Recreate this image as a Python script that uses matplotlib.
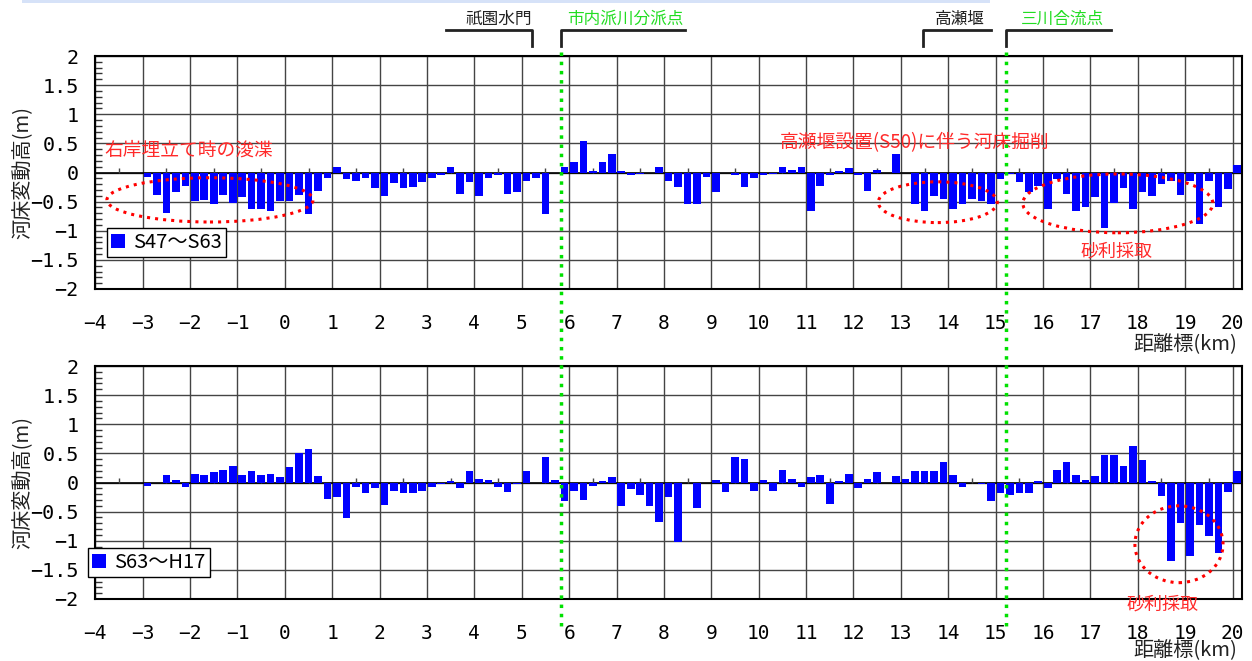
import numpy as np
import matplotlib
matplotlib.use('Agg')
import matplotlib.pyplot as plt
from matplotlib.patches import Ellipse, Rectangle
from matplotlib.lines import Line2D
from matplotlib.ticker import MultipleLocator
from matplotlib.transforms import blended_transform_factory

plt.rcParams['font.family'] = ['Noto Sans CJK JP', 'DejaVu Sans']

# section start (km), 0.2 km pitch; bars sit at the section midpoint
km = np.round(np.arange(-3.0, 20.01, 0.2), 1)

# bed level change (m), S47 -> S63
dz_s47_s63 = [
    -0.07, -0.38, -0.69, -0.33, -0.23, -0.49, -0.48, -0.54, -0.38, -0.52,
    -0.42, -0.62, -0.62, -0.66, -0.49, -0.49, -0.38, -0.71, -0.32, -0.09,
    0.10, -0.11, -0.14, -0.09, -0.26, -0.40, -0.18, -0.26, -0.25, -0.16,
    -0.09, -0.04, 0.10, -0.37, -0.16, -0.40, -0.09, -0.04, -0.37, -0.33,
    -0.14, -0.09, -0.71, 0.00, 0.10, 0.18, 0.54, 0.03, 0.18, 0.31,
    0.03, -0.04, -0.02, 0.00, 0.10, -0.14, -0.25, -0.54, -0.54, -0.07,
    -0.33, 0.00, -0.04, -0.25, -0.09, -0.04, -0.02, 0.10, 0.05, 0.10,
    -0.66, -0.23, -0.04, 0.03, 0.08, -0.04, -0.32, 0.05, 0.00, 0.31,
    0.00, -0.54, -0.66, -0.40, -0.45, -0.62, -0.54, -0.45, -0.49, -0.54,
    -0.11, -0.02, -0.16, -0.33, -0.23, -0.62, -0.11, -0.37, -0.66, -0.59,
    -0.42, -0.95, -0.52, -0.26, -0.62, -0.33, -0.40, -0.19, -0.14, -0.38,
    -0.14, -0.88, -0.14, -0.59, -0.28, 0.13,
]

# bed level change (m), S63 -> H17
dz_s63_h17 = [
    -0.06, 0.00, 0.13, 0.04, -0.08, 0.14, 0.13, 0.18, 0.21, 0.28,
    0.13, 0.19, 0.13, 0.14, 0.09, 0.26, 0.50, 0.57, 0.11, -0.29,
    -0.25, -0.61, -0.08, -0.18, -0.10, -0.39, -0.15, -0.18, -0.18, -0.15,
    -0.08, -0.03, 0.02, -0.10, 0.19, 0.06, 0.04, -0.08, -0.17, -0.03,
    0.19, 0.00, 0.44, 0.04, -0.32, -0.15, -0.30, -0.06, 0.02, 0.09,
    -0.41, -0.11, -0.22, -0.41, -0.68, -0.25, -1.03, 0.00, -0.44, 0.00,
    0.04, -0.17, 0.44, 0.40, -0.15, 0.04, -0.15, 0.21, 0.06, -0.08,
    0.09, 0.13, -0.37, 0.02, 0.14, -0.10, 0.06, 0.18, 0.00, 0.11,
    0.06, 0.19, 0.19, 0.19, 0.35, 0.13, -0.08, 0.00, -0.03, -0.32,
    -0.18, -0.22, -0.18, -0.18, 0.02, -0.10, 0.21, 0.35, 0.13, 0.04,
    0.11, 0.47, 0.47, 0.28, 0.62, 0.38, 0.02, -0.23, -1.35, -0.70,
    -1.27, -0.73, -0.92, -1.21, -0.17, 0.19,
]

periods = ['S47～S63', 'S63～H17']
xticks = list(range(-4, 21))
xticklabels = [str(v).replace('-', '−') for v in xticks]
yticks = [-2, -1.5, -1, -0.5, 0, 0.5, 1, 1.5, 2]
yticklabels = ['−2', '−1.5', '−1', '−0.5', '0', '0.5', '1', '1.5', '2']

# landmarks along the river: label, colour, bracket corner km, bracket end km, label km
sites = ['祇園水門', '市内派川分派点', '高瀬堰', '三川合流点']
site_colors = ['#222222', '#22dd22', '#222222', '#22dd22']
site_corner = [5.22, 5.83, 13.46, 15.22]
site_end = [3.40, 8.44, 14.90, 17.43]
site_text_km = [4.51, 7.18, 14.25, 16.40]
branch_km = [5.83, 15.22]

W, H = 1252, 661
fig = plt.figure(figsize=(W / 100, H / 100), dpi=100)


def px_rect(l, t, r, b):
    return [l / W, 1 - b / H, (r - l) / W, (b - t) / H]


def fy(py):
    return 1 - py / H


ax1 = fig.add_axes(px_rect(95.3, 56, 1242, 289))
ax2 = fig.add_axes(px_rect(95.3, 366, 1242, 599))

mono = 'DejaVu Sans Mono'
for ax, vals, name in [(ax1, dz_s47_s63, periods[0]), (ax2, dz_s63_h17, periods[1])]:
    ax.set_xlim(-4, 20.2)
    ax.set_ylim(-2, 2)
    ax.set_xticks(xticks)
    ax.set_xticklabels(xticklabels, fontfamily=mono, fontsize=14)
    ax.set_yticks(yticks)
    ax.set_yticklabels(yticklabels, fontfamily=mono, fontsize=14.5)
    ax.yaxis.set_minor_locator(MultipleLocator(0.1))
    ax.tick_params(axis='y', which='minor', direction='in', length=5, width=1, color='#333333')
    ax.tick_params(axis='y', which='major', direction='in', length=0, pad=12)
    ax.tick_params(axis='x', length=0, pad=18)
    ax.grid(True, color='#444444', lw=1)
    ax.set_axisbelow(True)
    for s in ax.spines.values():
        s.set_linewidth(1.5)
        s.set_color('black')
    ax.axhline(0, color='black', lw=1.2, zorder=2)
    ax.vlines(np.arange(-3.5, 20, 1.0), 0, 0.08, color='#444444', lw=1, zorder=2)
    ax.bar(km + 0.1, vals, width=0.16, color='#0000ff', zorder=3, label=name)

    fig.text(22 / W, (ax.get_position().y0 + ax.get_position().y1) / 2, '河床変動高(m)',
             rotation=90, ha='center', va='center', fontsize=14.5, color='#222222')

fig.text(1237 / W, fy(345), '距離標(km)', ha='right', va='center', fontsize=14.5, color='#222222')
fig.text(1237 / W, fy(651), '距離標(km)', ha='right', va='center', fontsize=14.5, color='#222222')

leg_kw = dict(loc='upper left', fontsize=14.5, frameon=True, fancybox=False, edgecolor='black',
              framealpha=1, borderpad=0.2, handlelength=0.7, handleheight=0.7,
              handletextpad=0.4, borderaxespad=0)
leg1 = ax1.legend(bbox_to_anchor=(0.0102, 0.262), **leg_kw)
leg2 = ax2.legend(bbox_to_anchor=(-0.0064, 0.219), **leg_kw)
for leg in (leg1, leg2):
    leg.get_frame().set_linewidth(1)

# red notes and dotted rings
red = '#ff2a2a'
ax1.text(-2.02, 0.39, '右岸埋立て時の浚渫', color=red, fontsize=13.5, ha='center', va='center')
ax1.text(13.29, 0.52, '高瀬堰設置(S50)に伴う河床掘削', color=red, fontsize=13.5, ha='center', va='center')
ax1.text(17.56, -1.35, '砂利採取', color=red, fontsize=13, ha='center', va='center')
ax2.text(18.53, -2.10, '砂利採取', color=red, fontsize=13, ha='center', va='center', clip_on=False)

rings = [(ax1, -1.58, -0.47, 4.35, 0.76), (ax1, 13.78, -0.51, 2.51, 0.70),
         (ax1, 17.58, -0.53, 4.01, 1.01), (ax2, 18.87, -1.06, 1.86, 1.32)]
for ax, cx, cy, w, h in rings:
    ax.add_patch(Ellipse((cx, cy), w, h, fill=False, ec='red', ls=':', lw=2.2, zorder=4, clip_on=False))

# landmark brackets above the upper panel
tr = blended_transform_factory(ax1.transData, fig.transFigure)
for label, col, x0, x1, xt in zip(sites, site_colors, site_corner, site_end, site_text_km):
    fig.add_artist(Line2D([x1, x0, x0], [fy(30), fy(30), fy(46)], transform=tr, color='#222222', lw=2))
    fig.text(xt, fy(19.5), label, transform=tr, color=col, fontsize=12, ha='center', va='center')

for xb in branch_km:
    fig.add_artist(Line2D([xb, xb], [fy(52), fy(628)], transform=tr, color='#00e000', lw=2.5, ls=':'))

fig.add_artist(Rectangle((22 / W, fy(2.5)), (990 - 22) / W, 2.5 / H, transform=fig.transFigure,
                         color='#d6e2f8', lw=0))

fig.savefig('out.png', dpi=100)
